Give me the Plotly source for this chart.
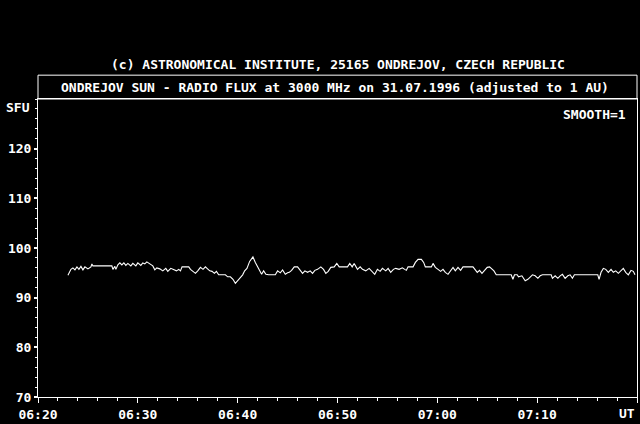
import plotly.graph_objects as go
from datetime import datetime, timedelta

# minutes after 06:20 UT and flux (SFU)
minutes = [3.0, 3.3, 3.5, 3.7, 3.9, 4.1, 4.3, 4.5, 4.7, 5.0, 5.3, 5.4, 5.5, 7.4, 7.5, 7.7, 7.8,
           8.0, 8.2, 8.4, 8.6, 8.8, 9.0, 9.3, 9.5, 9.8, 10.0, 10.3, 10.5, 10.7, 10.9, 11.2, 11.5,
           11.7, 11.9, 12.2, 12.5, 12.8, 13.0, 13.3, 13.6,
           13.87, 14.1, 14.27, 14.43, 15.1, 15.27, 15.53, 15.77, 16.0, 16.27, 16.53, 16.77, 16.93,
           17.2, 17.43, 17.67, 17.87, 18.1, 18.77, 19.0, 19.27, 19.53, 19.77, 20.0, 20.27, 20.5,
           20.7, 20.93, 21.2, 21.53, 21.77, 22.0, 22.2, 22.4, 22.6, 22.83, 23.1, 23.77, 24.0,
           24.27, 24.5, 24.77, 25.0,
           25.17, 25.4, 25.67, 26.0, 26.27, 26.5, 26.73, 27.0, 27.27, 27.5, 27.73, 28.0, 28.33,
           28.6, 28.83, 29.07, 29.33, 29.67, 29.93, 30.17, 31.0, 31.23, 31.47, 31.67, 32.0,
           32.27, 32.5, 32.83, 33.17, 33.5, 33.73, 34.0, 34.27, 34.5, 34.83, 35.07, 35.33, 35.6,
           35.83, 36.17, 36.5,
           36.73, 36.9, 37.07, 37.57, 37.8, 38.07, 38.4, 38.63, 38.8, 39.4, 39.57, 39.8, 40.07,
           40.33, 40.57, 40.8, 41.07, 41.33, 41.57, 41.8, 42.07, 42.33, 42.57, 43.57, 43.8, 44.0,
           44.23, 44.47, 44.73, 45.0, 45.23, 45.47, 45.67, 45.9, 47.4, 47.57, 47.73, 48.0,
           48.13, 48.47, 48.8, 49.07, 49.3, 49.53, 49.8, 50.07, 50.3, 50.53, 51.4, 51.53, 51.8,
           52.07, 52.3, 52.53, 52.8, 53.07, 53.3, 53.53, 53.73, 56.07, 56.2, 56.4, 56.63, 56.87,
           57.13, 57.4, 57.63, 57.87, 58.13, 58.4, 58.63, 58.87, 59.13, 59.4, 59.63, 59.8]

flux = [94.5, 95.7, 96.0, 95.6, 96.2, 95.7, 96.3, 95.6, 96.2, 95.8, 96.2, 96.8, 96.4, 96.4, 95.7, 96.3, 95.7,
        96.6, 97.0, 96.6, 97.0, 96.5, 96.9, 96.4, 96.9, 96.4, 97.0, 96.5, 97.0, 96.8, 97.2, 96.8, 96.4,
        95.6, 96.0, 95.8, 95.4, 95.9, 95.3, 95.9, 95.6,
        95.4, 95.7, 95.4, 96.2, 96.2, 95.7, 95.3, 94.9, 95.4, 96.1, 95.7, 96.2, 95.9,
        95.4, 95.3, 94.9, 95.3, 94.6, 94.6, 94.2, 94.2, 93.7, 92.9, 93.5, 94.2, 94.6,
        95.4, 95.9, 97.3, 98.2, 97.1, 96.2, 95.3, 94.7, 95.4, 94.7, 94.6, 94.6, 95.4,
        95.0, 95.6, 94.7, 95.0,
        95.1, 95.5, 96.2, 96.2, 95.5, 94.9, 95.4, 95.1, 95.4, 94.9, 95.5, 95.7, 96.2,
        95.7, 94.9, 95.3, 96.1, 96.2, 96.9, 96.2, 96.2, 96.9, 96.2, 96.9, 95.7,
        96.2, 95.7, 95.4, 95.9, 95.3, 94.7, 95.7, 95.3, 95.9, 95.4, 95.9, 95.1, 95.7,
        95.9, 95.7, 96.0,
        95.7, 95.5, 96.2, 96.2, 97.1, 97.7, 97.7, 97.1, 96.2, 96.2, 96.9, 96.1, 95.7,
        95.3, 95.7, 95.1, 94.7, 95.5, 96.1, 95.4, 96.1, 95.5, 96.2, 96.2, 95.5, 95.1,
        95.5, 94.9, 95.5, 96.1, 96.2, 95.7, 95.4, 94.6, 94.6, 93.7, 94.6, 94.6,
        94.2, 94.4, 93.4, 93.7, 94.2, 94.6, 94.4, 93.9, 94.4, 94.6, 94.6, 93.9, 94.4,
        93.9, 94.4, 94.7, 93.9, 94.4, 94.6, 93.9, 94.6, 94.6, 93.7, 95.1, 95.9, 95.7,
        95.1, 95.7, 95.1, 95.4, 94.9, 95.5, 95.9, 95.1, 94.6, 95.5, 95.3, 94.6]

tick_minutes = [0, 10, 20, 30, 40, 50, 60]
tick_labels = ["06:20", "06:30", "06:40", "06:50", "07:00", "07:10", ""]
y_ticks = [70, 80, 90, 100, 110, 120]

title_top = "(c) ASTRONOMICAL INSTITUTE, 25165 ONDREJOV, CZECH REPUBLIC"
title_box = "ONDREJOV SUN - RADIO FLUX at 3000 MHz on 31.07.1996 (adjusted to 1 AU)"

t0 = datetime(1996, 7, 31, 6, 20)
times = [t0 + timedelta(minutes=m) for m in minutes]
tickvals = [t0 + timedelta(minutes=m) for m in tick_minutes]

FONT = "DejaVu Sans Mono"
F = dict(family=FONT, size=13, color="white", weight="bold")

fig = go.Figure()
fig.add_trace(go.Scatter(x=times, y=flux, mode="lines",
                         line=dict(color="white", width=1.1), hoverinfo="skip"))

fig.update_layout(
    width=640, height=424,
    margin=dict(l=38, r=2, t=99, b=25),
    paper_bgcolor="black", plot_bgcolor="black",
    showlegend=False,
    font=F,
    xaxis=dict(
        type="date",
        range=[t0, t0 + timedelta(minutes=60)],
        tickmode="array", tickvals=tickvals, ticktext=tick_labels,
        ticks="outside", ticklen=5, tickwidth=1, tickcolor="white",
        minor=dict(tickmode="linear", tick0=t0, dtick=120000, ticks="outside",
                   ticklen=3, tickwidth=1, tickcolor="white"),
        showgrid=False, zeroline=False,
        showline=True, linecolor="white", linewidth=1, mirror=True,
        tickfont=F,
    ),
    yaxis=dict(
        range=[70, 130],
        tickmode="array", tickvals=y_ticks,
        ticks="outside", ticklen=3, tickwidth=2, tickcolor="white",
        minor=dict(tickmode="linear", tick0=70, dtick=2, ticks="outside",
                   ticklen=2, tickwidth=1, tickcolor="white"),
        showgrid=False, zeroline=False,
        showline=True, linecolor="white", linewidth=1, mirror=True,
        tickfont=F,
    ),
)

fig.add_shape(type="rect", xref="paper", yref="paper", x0=0, x1=1, y0=1, y1=1.08,
              line=dict(color="white", width=1))

fig.add_annotation(text=title_top, xref="paper", yref="paper", x=0.5, y=1.117,
                   xanchor="center", yanchor="middle", showarrow=False, font=F)
fig.add_annotation(text=title_box, xref="paper", yref="paper", x=0.495, y=1.04,
                   xanchor="center", yanchor="middle", showarrow=False, font=F)
fig.add_annotation(text="SMOOTH=1", xref="paper", yref="paper", x=0.985, y=0.947,
                   xanchor="right", yanchor="middle", showarrow=False, font=F)
fig.add_annotation(text="SFU", xref="paper", yref="paper", x=-0.01, y=0.97,
                   xanchor="right", yanchor="middle", showarrow=False, font=F)
fig.add_annotation(text="UT", xref="paper", yref="paper", x=1.0, y=0,
                   xanchor="right", yanchor="top", yshift=-7, showarrow=False, font=F)

fig.write_html("out.html", config={"displayModeBar": False},
               post_script="document.body.style.margin='0';document.body.style.background='black';")
